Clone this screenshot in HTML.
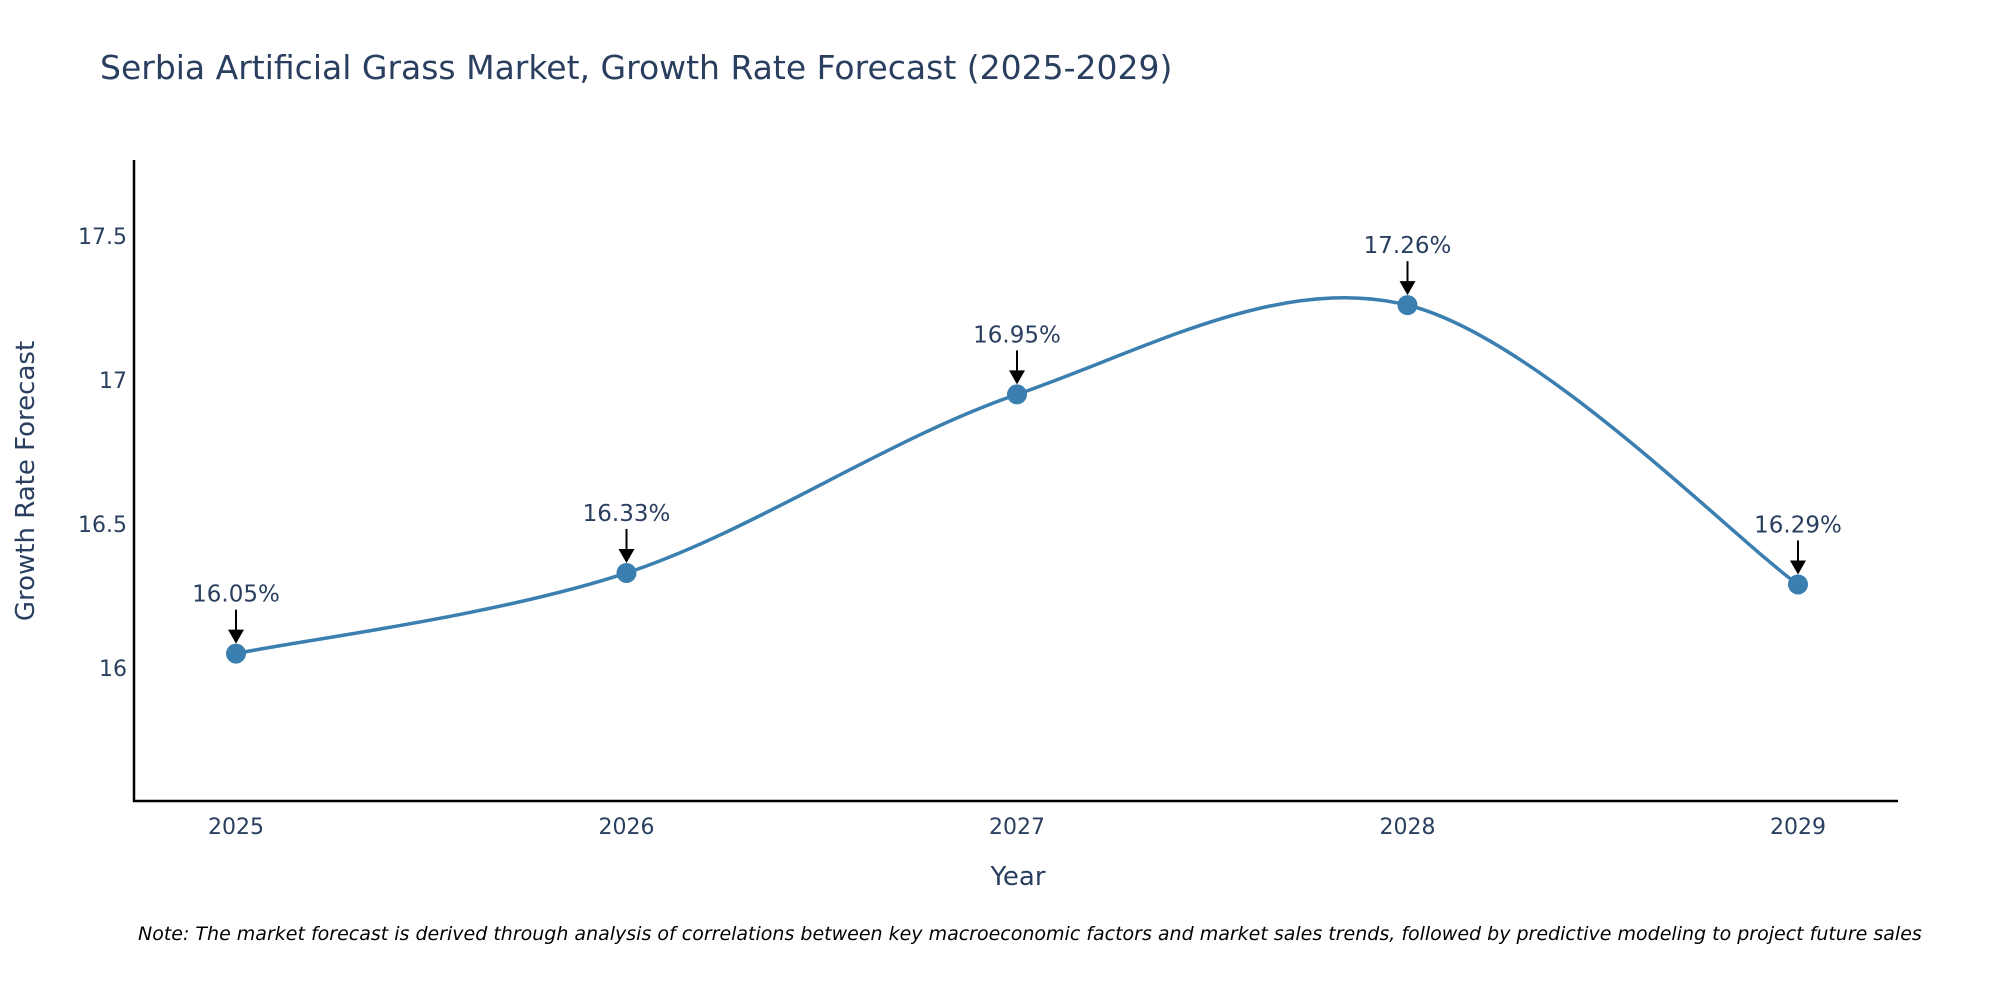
<!DOCTYPE html>
<html><head><meta charset="utf-8"><style>
body{margin:0;background:#fff;font-family:"DejaVu Sans","Liberation Sans",sans-serif;}
svg text{font-family:"DejaVu Sans","Liberation Sans",sans-serif;fill:#2a3f5f;}
</style></head><body>
<svg id="chart" width="2000" height="1000" xmlns="http://www.w3.org/2000/svg">
<rect width="2000" height="1000" fill="#fff"/>
<text x="100" y="79" font-size="33">Serbia Artificial Grass Market, Growth Rate Forecast (2025-2029)</text>
<g id="ticks"></g>
<path id="curve" fill="none" stroke="#3b7fb0" stroke-width="3.5"/>
<g id="marks"></g>
<line x1="134" y1="160" x2="134" y2="802" stroke="#000" stroke-width="2.5"/>
<line x1="133" y1="801" x2="1898" y2="801" stroke="#000" stroke-width="2.5"/>
<text x="1018" y="885" font-size="26" text-anchor="middle">Year</text>
<text transform="translate(34,481) rotate(-90)" font-size="26" text-anchor="middle">Growth Rate Forecast</text>
<text x="138" y="940" font-size="19" font-style="italic" style="fill:#000">Note: The market forecast is derived through analysis of correlations between key macroeconomic factors and market sales trends, followed by predictive modeling to project future sales</text>
</svg>
<script>
const years=[2025,2026,2027,2028,2029];
const values=[16.05,16.33,16.95,17.26,16.29];
const labels=["16.05%","16.33%","16.95%","17.26%","16.29%"];
const yTicks=[16,16.5,17,17.5];
const yTickLabels=["16","16.5","17","17.5"];
const ns="http://www.w3.org/2000/svg";
const x=v=>236+(v-2025)*390.5;
const y=v=>668-(v-16)*288;
function mk(t,a,p){const e=document.createElementNS(ns,t);for(const k in a)e.setAttribute(k,a[k]);p.appendChild(e);return e;}
const tk=document.getElementById('ticks');
yTicks.forEach((t,i)=>{const e=mk('text',{x:127,y:y(t)+8,'font-size':22,'text-anchor':'end'},tk);e.textContent=yTickLabels[i];

});
years.forEach(t=>{const e=mk('text',{x:x(t),y:834,'font-size':22,'text-anchor':'middle'},tk);e.textContent=t;

});
const P=years.map((t,i)=>[x(t),y(values[i])]);
let d='M'+P[0][0]+','+P[0][1];const s=0.33;
for(let i=0;i<P.length-1;i++){const p0=P[Math.max(i-1,0)],p1=P[i],p2=P[i+1],p3=P[Math.min(i+2,P.length-1)];
const c1=[p1[0]+(p2[0]-p0[0])*s*0.5, p1[1]+(p2[1]-p0[1])*s*0.5];
const c2=[p2[0]-(p3[0]-p1[0])*s*0.5, p2[1]-(p3[1]-p1[1])*s*0.5];
d+=` C${c1[0]},${c1[1]} ${c2[0]},${c2[1]} ${p2[0]},${p2[1]}`;}
document.getElementById('curve').setAttribute('d',d);
const g=document.getElementById('marks');
P.forEach((p,i)=>{const c=mk('circle',{cx:p[0],cy:p[1],r:10,fill:'#3b7fb0'},g);


const l=mk('line',{x1:p[0],y1:p[1]-44,x2:p[0],y2:p[1]-22,stroke:'#000','stroke-width':2},g);


const h=mk('path',{d:`M${p[0]-8},${p[1]-24} L${p[0]+8},${p[1]-24} L${p[0]},${p[1]-10} Z`,fill:'#000'},g);


const t=mk('text',{x:p[0],y:p[1]-52,'font-size':23,'text-anchor':'middle'},g);t.textContent=labels[i];

});
</script>
</body></html>
